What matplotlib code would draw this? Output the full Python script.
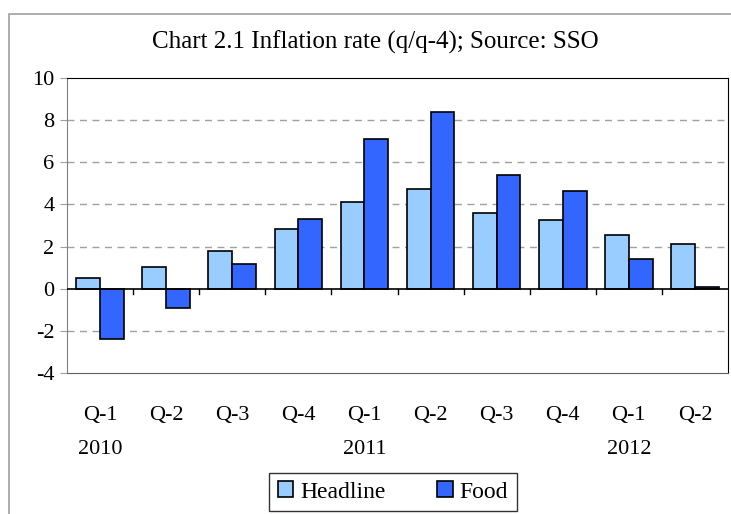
import numpy as np
import matplotlib
matplotlib.use("Agg")
from matplotlib import pyplot as plt
from matplotlib.patches import Rectangle

quarters = ['Q-1', 'Q-2', 'Q-3', 'Q-4', 'Q-1', 'Q-2', 'Q-3', 'Q-4', 'Q-1', 'Q-2']
years = ['2010', '', '', '', '2011', '', '', '', '2012', '']
headline = [0.5, 1.05, 1.8, 2.85, 4.1, 4.75, 3.6, 3.25, 2.55, 2.1]
food = [-2.4, -0.9, 1.15, 3.3, 7.1, 8.4, 5.4, 4.65, 1.4, 0.1]

plt.rcParams['font.family'] = ['Liberation Serif', 'DejaVu Serif']
plt.rcParams['axes.unicode_minus'] = False

fig = plt.figure(figsize=(7.31, 5.14), dpi=100)
# outer chart frame
fig.patches.append(Rectangle((9 / 731, -0.1), 1.1, 1 - 14 / 514 + 0.1,
                             transform=fig.transFigure, fill=False,
                             edgecolor='#a0a0a0', linewidth=1.2))

ax = fig.add_axes([67 / 731, 1 - 373 / 514, (728 - 67) / 731, (373 - 78) / 514])

x = np.arange(len(quarters))
w = 0.36
ax.bar(x - w / 2, headline, w, color='#99ccff', edgecolor='black', linewidth=1.2,
       label='Headline', zorder=3)
ax.bar(x + w / 2, food, w, color='#3366ff', edgecolor='black', linewidth=1.2,
       label='Food', zorder=3)

ax.set_xlim(-0.5, len(quarters) - 0.5)
ax.set_ylim(-4, 10)
ax.set_yticks(range(-4, 11, 2))
for v in [-2, 2, 4, 6, 8]:
    ax.axhline(v, color='#a0a0a0', linestyle=(0, (5, 4)), linewidth=1, zorder=1)
ax.axhline(0, color='black', linewidth=1.2, zorder=4)
# category boundary ticks on the zero line
for b in np.arange(0.5, len(quarters) - 0.5, 1):
    ax.plot([b, b], [0, -0.25], color='black', linewidth=1, zorder=4)

ax.spines['left'].set_color('#808080')
ax.spines['bottom'].set_color('#606060')
ax.spines['bottom'].set_linestyle((0, (3, 1)))
ax.spines['top'].set_color('black')
ax.spines['right'].set_color('black')

ax.tick_params(axis='y', length=5, color='#a0a0a0', labelsize=16, pad=4)
ax.tick_params(axis='x', length=0, labelsize=16, pad=24)
ax.set_xticks(x)
ax.set_xticklabels(quarters)
for xi, yr in zip(x, years):
    if yr:
        ax.text(xi, -0.26, yr, transform=ax.get_xaxis_transform(),
                ha='center', va='center', fontsize=16)

fig.text(375 / 731, 1 - 42 / 514, 'Chart 2.1 Inflation rate (q/q-4); Source: SSO',
         ha='center', va='center', fontsize=18)

leg = fig.legend(loc='center', bbox_to_anchor=(393 / 731, 1 - 492 / 514), ncol=2,
                 fontsize=17, frameon=True, fancybox=False, edgecolor='black',
                 handlelength=0.65, handleheight=0.65, columnspacing=2.2,
                 handletextpad=0.3, borderpad=0.35, borderaxespad=0)
leg.get_frame().set_linewidth(1)

fig.savefig('out.png', dpi=100)
